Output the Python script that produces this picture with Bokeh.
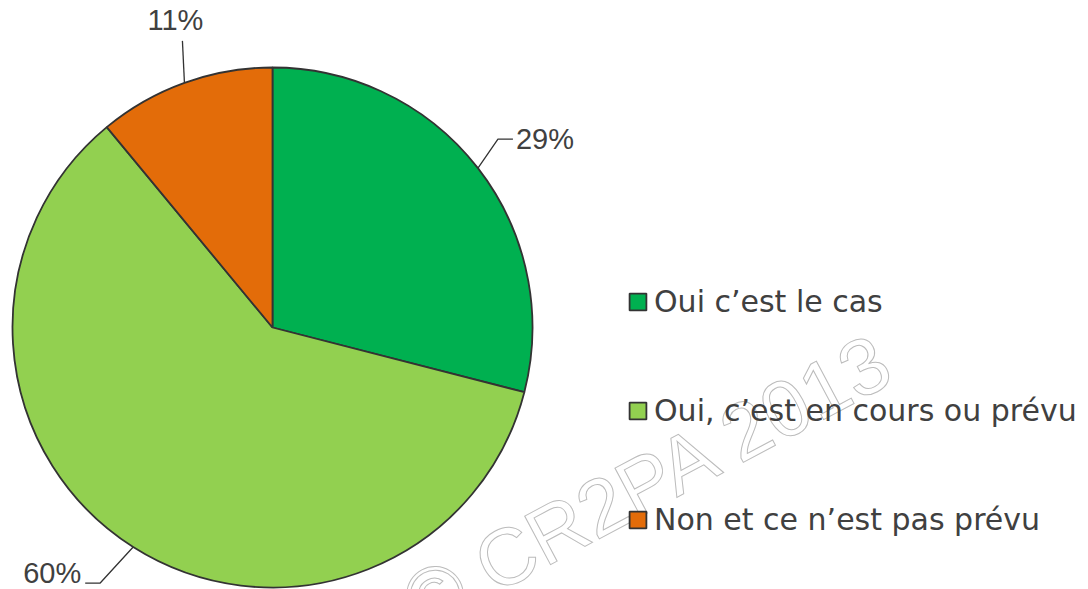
import math
from bokeh.plotting import figure
from bokeh.models import Range1d, Legend, LegendItem
from bokeh.core.properties import value
from bokeh.embed import file_html
from bokeh.resources import INLINE

# ---- data ----
categories = ["Oui c\u2019est le cas", "Oui, c\u2019est en cours ou pr\u00e9vu", "Non et ce n\u2019est pas pr\u00e9vu"]
shares = [29, 60, 11]
pct_labels = ["29%", "60%", "11%"]
colors = ["#00B050", "#92D050", "#E36C09"]
watermark = "\u00a9 CR2PA 2013"

# ---- layout / style ----
W, H = 1088, 589
CX, CY, R = 272, 262, 260
TEXT_COLOR = "#404040"
EDGE = "#333333"

p = figure(width=W, height=H, x_range=Range1d(0, W), y_range=Range1d(0, H),
           output_backend="svg", toolbar_location=None, min_border=0,
           background_fill_color="white", border_fill_color="white")
p.axis.visible = False
p.grid.visible = False
p.outline_line_color = None

# watermark (behind the pie)
p.text(x=[648], y=[108], text=[watermark], angle=math.radians(28),
       text_font=value("Liberation Sans"), text_font_size="80px",
       text_color="white", text_outline_color="#bcbcbc",
       text_align="center", text_baseline="middle")

# pie wedges, clockwise from 12 o'clock
total = float(sum(shares))
starts, ends, mids = [], [], []
acc = 0.0
for s in shares:
    a0 = math.pi / 2 - 2 * math.pi * acc / total
    acc += s
    a1 = math.pi / 2 - 2 * math.pi * acc / total
    starts.append(a0)
    ends.append(a1)
    mids.append((a0 + a1) / 2)

renderers = []
for i in range(len(shares)):
    r = p.wedge(x=CX, y=CY, radius=R, start_angle=starts[i], end_angle=ends[i],
                direction="clock", fill_color=colors[i], line_color=EDGE, line_width=1.8)
    renderers.append(r)

# leader lines + percentage labels (offsets are style, anchored on slice mid-angles)
leader_style = [
    ([(0, 0), (20, 29), (35, 29)], (38, 29), "left", "middle"),
    ([(0, 0), (-33, -36), (-48, -36)], (-52, -26), "right", "alphabetic"),
    ([(0, 0), (-2, 42)], (-9, 47), "center", "bottom"),
]
for i in range(len(shares)):
    ex = CX + R * math.cos(mids[i])
    ey = CY + R * math.sin(mids[i])
    pts, toff, align, base = leader_style[i]
    p.line([ex + dx for dx, dy in pts], [ey + dy for dx, dy in pts],
           line_color=EDGE, line_width=1.3)
    p.text(x=[ex + toff[0]], y=[ey + toff[1]], text=[pct_labels[i]],
           text_font=value("Liberation Sans"), text_font_size="29px",
           text_color=TEXT_COLOR, text_align=align, text_baseline=base)

legend = Legend(items=[LegendItem(label=categories[i], renderers=[renderers[i]]) for i in range(3)],
                location=(627, 52), orientation="vertical",
                glyph_width=21, glyph_height=21, label_standoff=6, spacing=74,
                padding=0, margin=0, border_line_color=None, background_fill_alpha=0,
                label_text_font="DejaVu Sans", label_text_font_size="30px",
                label_text_color=TEXT_COLOR)
p.add_layout(legend)

open("out.html", "w").write(file_html(p, INLINE))
